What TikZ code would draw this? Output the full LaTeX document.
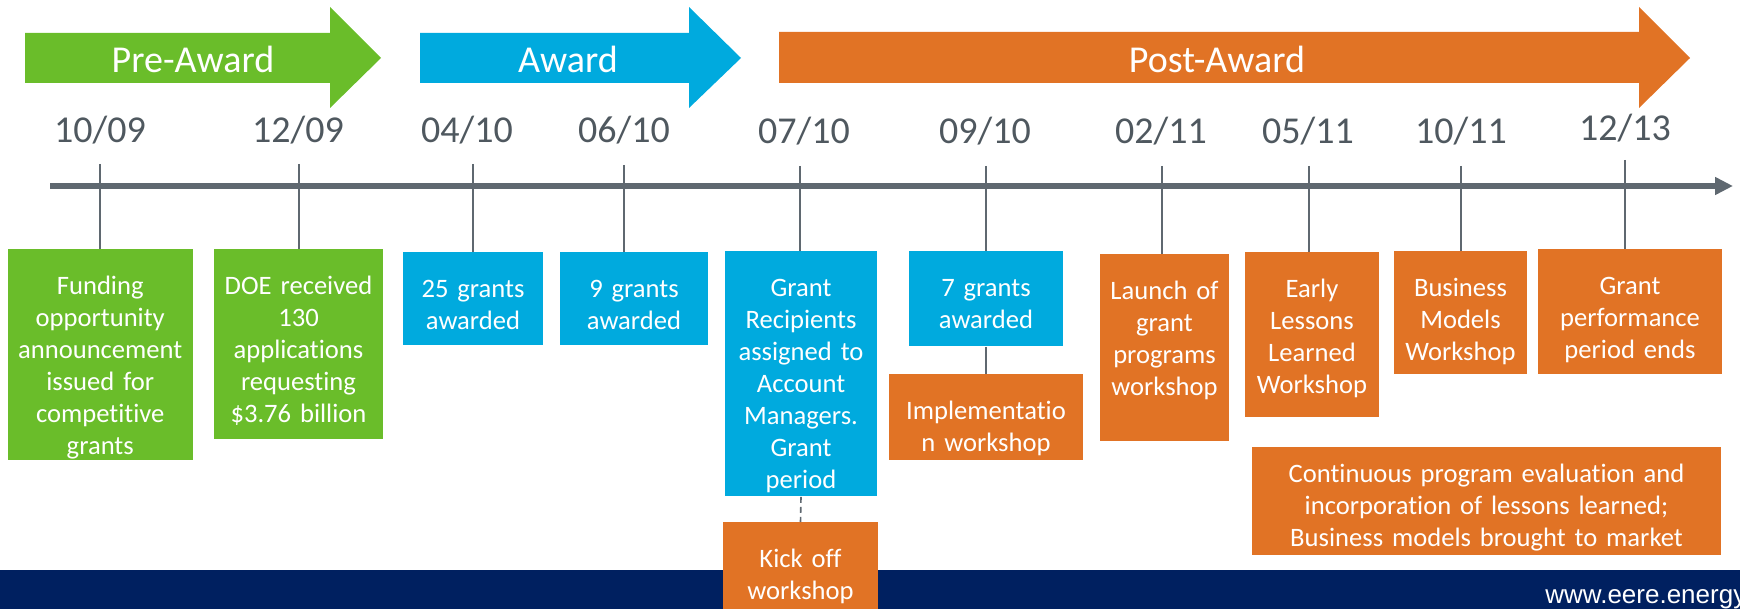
\documentclass[tikz,border=0pt]{standalone}
\usepackage{fontspec}
\setmainfont{Carlito}[Ligatures=NoCommon]
\newfontfamily\urlfont{Liberation Sans}
\usetikzlibrary{arrows.meta}

\definecolor{preGreen}{HTML}{6ABD2A}
\definecolor{awardBlue}{HTML}{00AADE}
\definecolor{postOrange}{HTML}{E17325}
\definecolor{bannerNavy}{HTML}{002060}
\definecolor{axisGray}{HTML}{5F6870}
\definecolor{dateGray}{HTML}{4F585F}

\tikzset{
    card/.style={fill=#1, text=white, align=center, inner sep=0pt, anchor=north,
        text height=22.5pt, font=\fontsize{13.3pt}{16pt}\selectfont},
    tick/.style={draw=axisGray, line width=1pt},
    date/.style={text=dateGray, anchor=base, inner sep=0pt,
        font=\fontsize{19pt}{21pt}\selectfont},
    phase/.style={text=white, anchor=base, inner sep=0pt,
        font=\fontsize{19pt}{21pt}\selectfont}
}

\begin{document}
\begin{tikzpicture}[x=0.5pt, y=-0.5pt]
    \useasboundingbox (0,0) rectangle (1740,609);
    \clip (0,0) rectangle (1740,609);

    % Phase arrows
    \fill[preGreen] (25,33) -- (330,33) -- (330,7) -- (381,58) -- (330,108) -- (330,83) -- (25,83) -- cycle;
    \fill[awardBlue] (420,33) -- (689,33) -- (689,7) -- (741,58) -- (689,108) -- (689,83) -- (420,83) -- cycle;
    \fill[postOrange] (779,32) -- (1639,32) -- (1639,7) -- (1690,58) -- (1639,108) -- (1639,83) -- (779,83) -- cycle;
    \node[phase] (pre) at (193,73) {Pre-Award};
    \node[phase] (award) at (568,73) {Award};
    \node[phase] (post) at (1217,73) {Post-Award};

    % Dates
    \node[date] (d1) at (100,143) {10/09};
    \node[date] (d2) at (298,143) {12/09};
    \node[date] (d3) at (467,143) {04/10};
    \node[date] (d4) at (624,143) {06/10};
    \node[date] (d5) at (804,144) {07/10};
    \node[date] (d6) at (985,144) {09/10};
    \node[date] (d7) at (1161,144) {02/11};
    \node[date] (d8) at (1308,144) {05/11};
    \node[date] (d9) at (1461,144) {10/11};
    \node[date] (d10) at (1625,141) {12/13};

    % Time axis
    \coordinate (axisL) at (50,186);
    \coordinate (axisR) at (1733,186);
    \draw[axisGray, line width=3pt, -{Triangle[length=9pt,width=8.5pt]}] (axisL) -- (axisR);

    % Tick tops
    \coordinate (t1) at (100,164);
    \coordinate (t2) at (299,164);
    \coordinate (t3) at (473,164);
    \coordinate (t4) at (624,165);
    \coordinate (t5) at (800,166);
    \coordinate (t6) at (985.5,166);
    \coordinate (t7) at (1161.5,166);
    \coordinate (t8) at (1309,166);
    \coordinate (t9) at (1461,166);
    \coordinate (t10) at (1624.5,160);

    % Event boxes
    \node[card=preGreen, text width=92.25pt, text depth=83pt] (fund) at (100.25,249)
        {Funding\\opportunity\\announcement\\issued for\\competitive\\grants};
    \node[card=preGreen, text width=84.5pt, text depth=72.5pt] (apps) at (298.5,249)
        {DOE received\\130\\applications\\requesting\\\$3.76 billion};
    \node[card=awardBlue, text width=70pt, text depth=24pt] (g25) at (473,252)
        {25 grants\\awarded};
    \node[card=awardBlue, text width=74pt, text depth=24pt] (g9) at (634,252)
        {9 grants\\awarded};
    \node[card=awardBlue, text width=76pt, text depth=100pt] (recip) at (801,251)
        {Grant\\Recipients\\assigned to\\Account\\Managers.\\Grant\\period};
    \node[card=awardBlue, text width=77pt, text depth=25pt] (g7) at (986,251)
        {7 grants\\awarded};
    \node[card=postOrange, text width=97pt, text depth=20.5pt] (impl) at (986,374)
        {Implementatio\\n workshop};
    \node[card=postOrange, text width=64.5pt, text depth=71pt] (launch) at (1164.5,254)
        {Launch of\\grant\\programs\\workshop};
    \node[card=postOrange, text width=67pt, text depth=60pt] (early) at (1312,252)
        {Early\\Lessons\\Learned\\Workshop};
    \node[card=postOrange, text width=66.5pt, text depth=39pt] (biz) at (1460.5,251)
        {Business\\Models\\Workshop};
    \node[card=postOrange, text width=92pt, text depth=40pt] (perf) at (1630,249)
        {Grant\\performance\\period ends};
    \node[card=postOrange, text width=234.5pt, text height=17.5pt, text depth=36.5pt] (cont) at (1486.5,447)
        {Continuous program evaluation and\\incorporation of lessons learned;\\Business models brought to market};

    % Footer banner
    \fill[bannerNavy] (0,570) rectangle (1740,609);
    \node[card=postOrange, text width=77.5pt, text depth=32.5pt] (kick) at (800.5,522)
        {Kick off\\workshop};
    \node[anchor=base west, inner sep=0pt, text=white, font=\urlfont\fontsize{13pt}{15pt}\selectfont] (url) at (1545,603)
        {www.eere.energy};

    % Ticks down to the boxes
    \draw[tick] (t1) -- (t1 |- fund.north);
    \draw[tick] (t2) -- (t2 |- apps.north);
    \draw[tick] (t3) -- (t3 |- g25.north);
    \draw[tick] (t4) -- (t4 |- g9.north);
    \draw[tick] (t5) -- (t5 |- recip.north);
    \draw[tick] (t6) -- (t6 |- g7.north);
    \draw[tick] (t7) -- (t7 |- launch.north);
    \draw[tick] (t8) -- (t8 |- early.north);
    \draw[tick] (t9) -- (t9 |- biz.north);
    \draw[tick] (t10) -- (t10 |- perf.north);

    % Box to box links
    \draw[tick] (g7.south) -- (impl.north);
    \draw[tick, densely dashed, line width=0.8pt] (recip.south) -- (kick.north);
\end{tikzpicture}
\end{document}
